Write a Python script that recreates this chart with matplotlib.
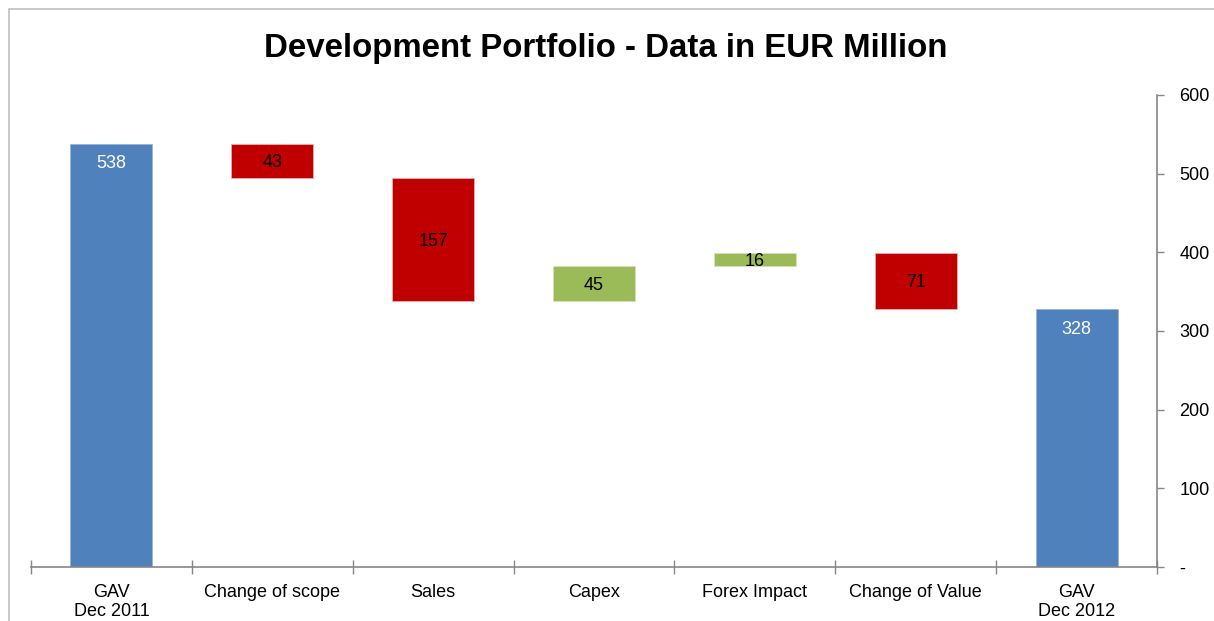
import matplotlib
matplotlib.use("Agg")
import matplotlib.pyplot as plt
from matplotlib.patches import Rectangle
import numpy as np

plt.rcParams['font.family'] = ['Liberation Sans', 'DejaVu Sans']

categories = ["GAV\nDec 2011", "Change of scope", "Sales", "Capex",
              "Forex Impact", "Change of Value", "GAV\nDec 2012"]
start_value = 538
changes = [-43, -157, 45, 16, -71]
end_value = 328
y_ticks = [0, 100, 200, 300, 400, 500, 600]
y_tick_labels = ["-", "100", "200", "300", "400", "500", "600"]

blue = "#4F81BD"
red = "#C00000"
green = "#9BBB59"
axis_col = "#868686"

fig = plt.figure(figsize=(12.14, 6.21), dpi=100)
ax = fig.add_axes([31/1214, 1-567/621, (1157-31)/1214, (567-95)/621])

# frame around chart
fig.patches.append(Rectangle((9/1214, -0.1), 1.2, 1 - 9/621 + 0.1,
                             transform=fig.transFigure, fill=False,
                             edgecolor="#BFBFBF", linewidth=1.2))

fs = 13
w = 0.51
# start bar
ax.bar(0, start_value, width=w, color=blue, edgecolor="#95B3D7", linewidth=0.5)
ax.annotate(str(start_value), (0, start_value), xytext=(0, -14.5),
            textcoords="offset points", ha="center", va="center",
            color="white", fontsize=fs)
level = start_value
for i, c in enumerate(changes, start=1):
    lo, hi = (level + c, level) if c < 0 else (level, level + c)
    col = red if c < 0 else green
    ax.bar(i, hi - lo, bottom=lo, width=w, color=col,
           edgecolor="#E6B9B8" if c < 0 else "#D7E4BD", linewidth=0.5)
    ax.annotate(str(abs(c)), (i, (lo + hi) / 2), xytext=(0, -1.2),
                textcoords="offset points", ha="center", va="center",
                color="black", fontsize=fs)
    level += c
ax.bar(6, end_value, width=w, color=blue, edgecolor="#95B3D7", linewidth=0.5)
ax.annotate(str(end_value), (6, end_value), xytext=(0, -14.5),
            textcoords="offset points", ha="center", va="center",
            color="white", fontsize=fs)

ax.set_xlim(-0.5, 6.5)
ax.set_ylim(0, 600)

for s in ["top", "left"]:
    ax.spines[s].set_visible(False)
for s in ["bottom", "right"]:
    ax.spines[s].set_color(axis_col)
    ax.spines[s].set_linewidth(1.2)

ax.yaxis.tick_right()
ax.set_yticks(y_ticks)
ax.set_yticklabels(y_tick_labels)
ax.tick_params(axis="y", direction="out", length=5, color=axis_col, width=1,
               labelsize=fs, pad=11)

ax.set_xticks(np.arange(-0.5, 7, 1))
ax.set_xticklabels([])
ax.tick_params(axis="x", which="major", direction="inout", length=10,
               color=axis_col, width=1)
ax.set_xticks(np.arange(7), minor=True)
ax.set_xticklabels(categories, minor=True, fontsize=fs)
ax.tick_params(axis="x", which="minor", length=0, pad=12)

fig.text(606/1214, 1-49/621, "Development Portfolio - Data in EUR Million",
         ha="center", va="center", fontsize=23.8, fontweight="bold")

fig.savefig("out.png", dpi=100, facecolor="white")
